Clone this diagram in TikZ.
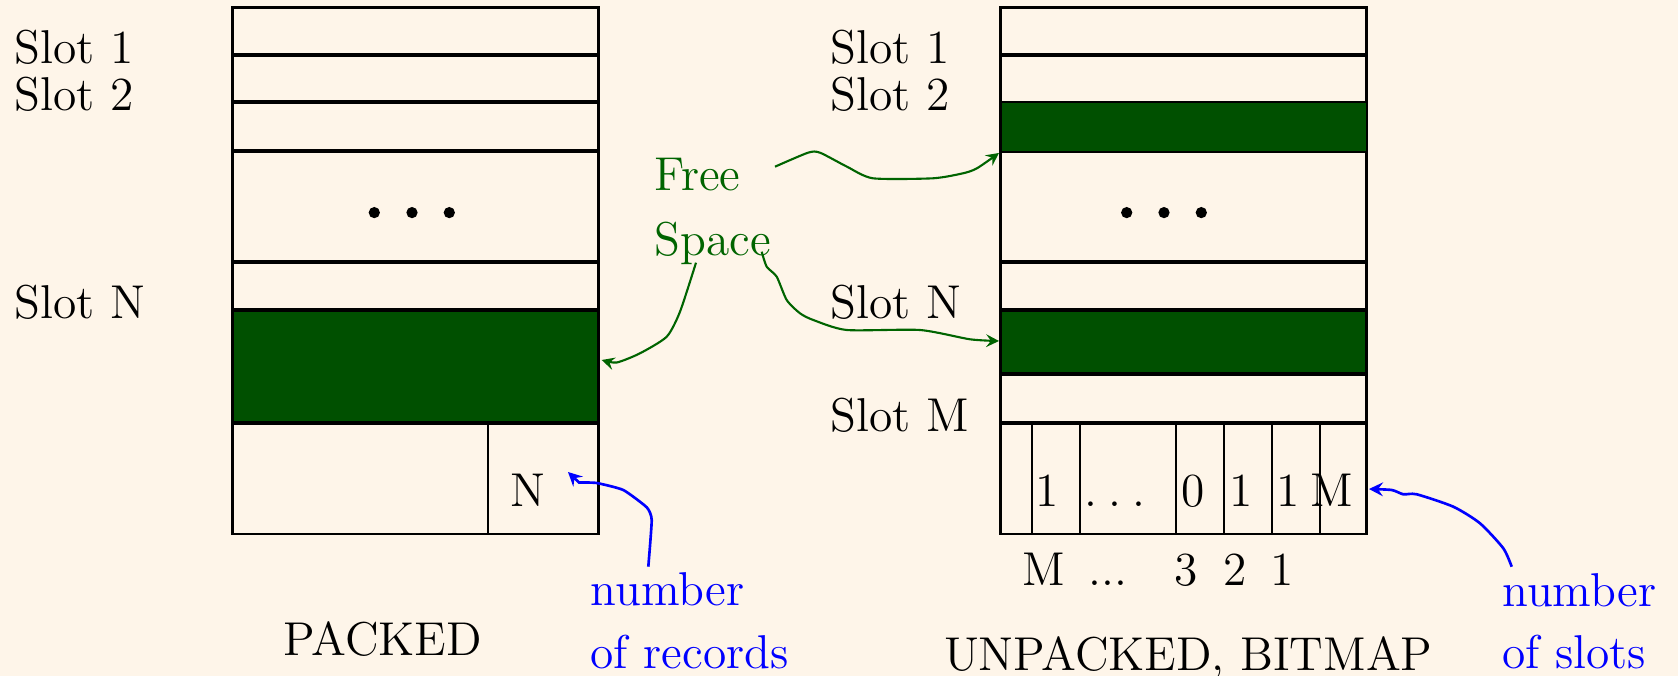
\documentclass[tikz,border=0pt]{standalone}
\usepackage{xcolor}
\usepackage{tikz}
\usetikzlibrary{calc}

\definecolor{paper}{RGB}{254,245,233}
\definecolor{freegreen}{RGB}{0,80,0}
\definecolor{textgreen}{RGB}{0,100,0}

\tikzset{
	boxline/.style={line width=0.72pt},
	slotline/.style={line width=1.2pt},
	cellline/.style={line width=0.6pt},
	txt/.style={inner sep=0pt, font=\fontsize{13.5}{16}\selectfont},
	lbl/.style={txt, anchor=base west},
	mid/.style={txt, anchor=base},
	freearrow/.style={-stealth, draw=textgreen, line width=0.6pt},
	notearrow/.style={-stealth, draw=blue, line width=0.75pt}
}

\begin{document}
\begin{tikzpicture}[x=0.01cm, y=-0.01cm]
			\def\pL{232.7};
			\def\pR{598.7};
			\def\uL{1000.7};
			\def\uR{1366.7};
			\def\yTop{7.3};
			\def\yBot{534};
			\def\yRow{422.7};

			\fill[paper] (0,0) rectangle (1678,676);
			\useasboundingbox (0,0) rectangle (1678,676);

			% packed page
			\begin{scope}
				\fill[freegreen] (\pL,310) rectangle (\pR,\yRow);
				\draw[boxline] (\pL,\yTop) rectangle (\pR,\yBot);
				\foreach \y in {54.8,102.2,151,262,310,\yRow}
					\draw[slotline] (\pL,\y) -- (\pR,\y);
				\draw[cellline] (487.7,\yRow) -- (487.7,\yBot);
				\foreach \x in {374.3,412,449.3}
					\fill (\x,212.6) circle (1.6pt);
				\node[mid] (pN) at (528,506) {N};
			\end{scope}

			% unpacked page with bitmap
			\begin{scope}
				\fill[freegreen] (\uL,310) rectangle (\uR,374);
				\draw[boxline] (\uL,\yTop) rectangle (\uR,\yBot);
				\foreach \y in {54.8,262,310,374,\yRow}
					\draw[slotline] (\uL,\y) -- (\uR,\y);
				\filldraw[freegreen, draw=black, line width=0.6pt] (\uL,102.2) rectangle (\uR,152);
				\foreach \x in {1031.7,1080,1175.7,1223.7,1271.7,1320}
					\draw[cellline] (\x,\yRow) -- (\x,\yBot);
				\foreach \x in {1126.7,1164,1201.3}
					\fill (\x,212.6) circle (1.6pt);
				\node[mid] (bitA) at (1047.3,506) {1};
				\node[mid] (bitDots) at (1115,506) {.\hspace{0.24em}.\hspace{0.24em}.};
				\node[mid] (bitC) at (1192.7,506) {0};
				\node[mid] (bitB) at (1240.7,506) {1};
				\node[mid] (bitD) at (1288.3,506) {1};
				\node[mid] (uM) at (1331.7,506) {M};
				\node[mid] (idxM) at (1044,585) {M};
				\node[mid] (idxDots) at (1108,585) {...};
				\node[mid] (idxC) at (1186,585) {3};
				\node[mid] (idxB) at (1235,585) {2};
				\node[mid] (idxA) at (1281.7,585) {1};
			\end{scope}

			% slot labels
			\node[lbl] (pS1) at (14,63.3) {Slot 1};
			\node[lbl] (pS2) at (14,111) {Slot 2};
			\node[lbl] (pSN) at (14,318) {Slot N};
			\node[lbl] (uS1) at (830,63.3) {Slot 1};
			\node[lbl] (uS2) at (830,111) {Slot 2};
			\node[lbl] (uSN) at (830,318) {Slot N};
			\node[lbl] (uSM) at (830,431.7) {Slot M};

			\node[mid] (packed) at (383,655) {PACKED};
			\node[lbl] (unpacked) at (943.3,670) {UNPACKED, BITMAP};

			% free space
			\node[lbl, text=textgreen] (free) at (654,191) {Free};
			\node[lbl, text=textgreen] (space) at (654,255) {Space};

			\coordinate (freeA) at (775,166.7);
			\coordinate (freeB) at (696,262.7);
			\coordinate (freeC) at (761.7,251.7);
			\coordinate (holeP) at (601.7,360);
			\coordinate (holeU) at (999,153);
			\coordinate (holeV) at (999,341);

			\draw[freearrow] plot[smooth, tension=0.4] coordinates {(freeA) (808,152.7) (820,152.7) (847,166.7) (873,178.3) (933,178.3) (963,173.3) (977,168.3) (holeU)};
			\draw[freearrow] plot[smooth, tension=0.4] coordinates {(freeB) (680,311.7) (666.7,336.7) (640,353.3) (616.7,362.5) (holeP)};
			\draw[freearrow] plot[smooth, tension=0.4] coordinates {(freeC) (766.7,266.7) (776.7,276.7) (786.7,300) (800,313.3) (813.3,320) (846.7,330) (920,330) (970,339.3) (holeV)};

			% notes
			\node[lbl, text=blue] (recA) at (590,605) {number};
			\node[lbl, text=blue] (recB) at (590,668.3) {of records};
			\node[lbl, text=blue] (slA) at (1501.7,606.7) {number};
			\node[lbl, text=blue] (slB) at (1501.7,668.3) {of slots};

			\coordinate (recTail) at (648.3,566.7);
			\coordinate (recHead) at (568,472);
			\coordinate (slTail) at (1511.7,566.7);
			\coordinate (slHead) at (1369,489);

			\draw[notearrow] plot[smooth, tension=0.3] coordinates {(recTail) (651.7,520) (646.7,507.3) (623.3,490) (596.7,483) (579,482.5)} -- (recHead);
			\draw[notearrow] plot[smooth, tension=0.4] coordinates {(slTail) (1503.3,548.3) (1480,523.3) (1453.3,506.7) (1416.7,494.3) (1403.3,494.3) (1391.7,490) (slHead)};
		\end{tikzpicture}
\end{document}
